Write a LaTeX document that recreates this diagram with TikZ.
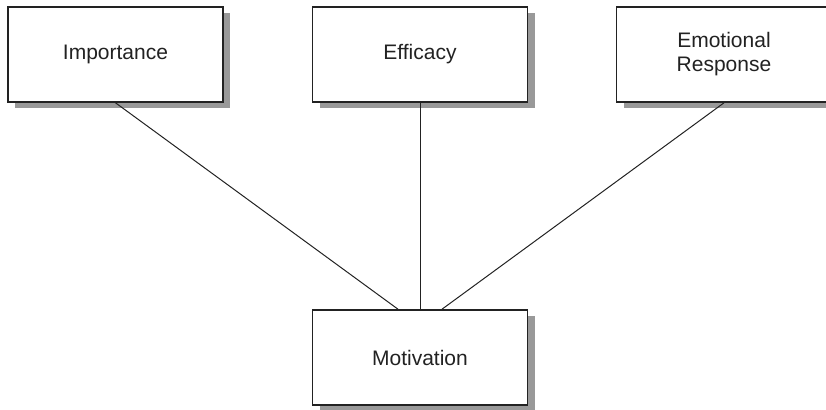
\documentclass[tikz,border=0pt]{standalone}
\usepackage{fontspec}
\setmainfont{Liberation Sans}
\usetikzlibrary{shadows}
\definecolor{ink}{HTML}{222222}
\definecolor{shade}{HTML}{999999}
\begin{document}
\begin{tikzpicture}[x=1pt,y=-1pt,
  box/.style={draw=ink, line width=1.6pt, fill=white, minimum width=215pt, minimum height=95pt,
    inner sep=0pt, align=center, text=ink, font=\fontsize{21}{24}\selectfont,
    drop shadow={shadow xshift=7pt, shadow yshift=-6pt, fill=shade, opacity=1}},
  link/.style={draw=ink, line width=1pt}]
\useasboundingbox (0,0) rectangle (826,409);
\clip (0,0) rectangle (826,409);
\node[box] (imp) at (115.5,54.5) {Importance};
\node[box] (eff) at (420,54.5) {Efficacy};
\node[box] (emo) at (724,54.5) {Emotional\\Response};
\node[box] (mot) at (420,357.5) {Motivation};
\draw[link] (imp.south) -- ([xshift=-22pt]mot.north);
\draw[link] (eff.south) -- (mot.north);
\draw[link] (emo.south) -- ([xshift=22pt]mot.north);
\end{tikzpicture}
\end{document}
